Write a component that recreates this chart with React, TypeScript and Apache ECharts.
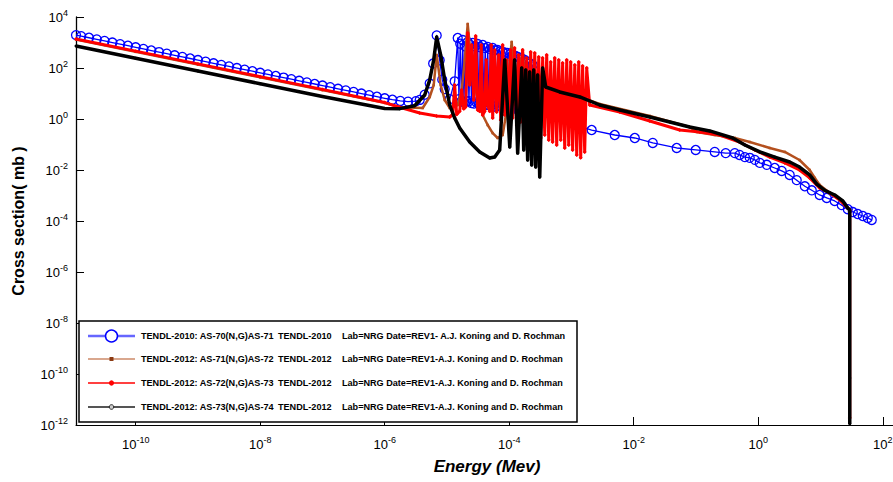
import React, { useEffect, useRef } from "react";
import * as echarts from "echarts";

const FONT = 'Arial, "Liberation Sans", Helvetica, sans-serif';

// Energy (MeV) range of the x axis and tick exponents
const energyRange = [1.1e-11, 146];
const xTickExponents = [-10, -8, -6, -4, -2, 0, 2];
const yRangeExponents = [-12, 4];

const seriesNames = [
  "TENDL-2010: AS-70(N,G)AS-71",
  "TENDL-2012: AS-71(N,G)AS-72",
  "TENDL-2012: AS-72(N,G)AS-73",
  "TENDL-2012: AS-73(N,G)AS-74",
];
const libraryNames = ["TENDL-2010", "TENDL-2012", "TENDL-2012", "TENDL-2012"];
const labNotes = [
  "Lab=NRG Date=REV1- A.J. Koning and D. Rochman",
  "Lab=NRG Date=REV1-A.J. Koning and D. Rochman",
  "Lab=NRG Date=REV1-A.J. Koning and D. Rochman",
  "Lab=NRG Date=REV1-A.J. Koning and D. Rochman",
];

// [energy MeV, cross section mb]
const as70: number[][] = [
  [1.1e-11, 1950], [1.33e-11, 1774], [1.78e-11, 1535], [2.37e-11, 1330], [3.16e-11, 1151], [4.22e-11, 996], [5.62e-11, 863], [7.5e-11, 747],
  [1e-10, 647], [1.33e-10, 561], [1.78e-10, 485], [2.37e-10, 421], [3.16e-10, 364], [4.22e-10, 315], [5.62e-10, 273], [7.5e-10, 236],
  [1e-9, 205], [1.33e-9, 177], [1.78e-9, 153], [2.37e-9, 133], [3.16e-9, 115], [4.22e-9, 99.6], [5.62e-9, 86.3], [7.5e-9, 74.7],
  [1e-8, 64.7], [1.33e-8, 56.1], [1.78e-8, 48.5], [2.37e-8, 42.1], [3.16e-8, 36.4], [4.22e-8, 31.5], [5.62e-8, 27.3], [7.5e-8, 23.6],
  [1e-7, 20.5], [1.33e-7, 17.7], [1.78e-7, 15.3], [2.37e-7, 13.3], [3.16e-7, 11.5], [4.22e-7, 9.96], [5.62e-7, 8.63], [7.5e-7, 7.47],
  [1e-6, 6.47], [1.33e-6, 5.7], [1.78e-6, 5.1], [2.37e-6, 4.8], [3.16e-6, 5.0], [3.65e-6, 5.6], [4.39e-6, 9], [5.28e-6, 25],
  [6.0e-6, 150], [6.84e-6, 1900], [7.64e-6, 200], [8.4e-6, 35], [9.2e-6, 15], [1.107e-5, 6], [1.33e-5, 30],
  [1.488e-5, 1500], [1.558e-5, 6], [1.632e-5, 900], [1.709e-5, 5], [1.79e-5, 1250], [1.875e-5, 4.5], [1.963e-5, 700], [2.056e-5, 5],
  [2.153e-5, 1047], [2.255e-5, 5], [2.362e-5, 800], [2.474e-5, 4.2], [2.59e-5, 955], [2.713e-5, 4], [2.841e-5, 700], [2.975e-5, 4.5],
  [3.116e-5, 870], [3.263e-5, 3.8], [3.418e-5, 650], [3.58e-5, 4], [3.749e-5, 800], [3.926e-5, 4.2], [4.112e-5, 600], [4.307e-5, 3.6],
  [4.51e-5, 667], [4.723e-5, 3.5], [4.946e-5, 550], [5.18e-5, 3.4], [5.425e-5, 610], [5.682e-5, 3], [5.95e-5, 500], [6.231e-5, 3.2],
  [6.526e-5, 508], [6.835e-5, 3.2], [7.158e-5, 450], [7.496e-5, 3], [7.851e-5, 424], [8.222e-5, 2.8], [8.611e-5, 400], [9.018e-5, 2.9],
  [9.445e-5, 387], [9.892e-5, 3], [1.036e-4, 350], [1.085e-4, 2.7], [1.136e-4, 323], [1.19e-4, 2.6], [1.246e-4, 300], [1.305e-4, 2.5],
  [1.367e-4, 270], [1.432e-4, 2.4], [1.499e-4, 250], [1.57e-4, 2.3], [1.644e-4, 225], [1.722e-4, 2.2], [1.803e-4, 200], [1.889e-4, 2.1],
  [1.978e-4, 172], [2.071e-4, 2.0], [2.169e-4, 150], [2.272e-4, 1.9], [2.379e-4, 131], [2.492e-4, 1.8],
  [2.11e-3, 0.37], [4.95e-3, 0.236], [1.04e-2, 0.18], [2.02e-2, 0.115], [4.9e-2, 0.073], [9.9e-2, 0.061], [0.2, 0.051], [0.3, 0.046],
  [0.42, 0.046], [0.5, 0.039], [0.61, 0.032], [0.73, 0.03], [0.88, 0.025], [1.06, 0.019], [1.37, 0.016], [1.84, 0.012],
  [2.38, 0.0092], [3.2, 0.0064], [4.15, 0.004], [5.6, 0.0023], [7.23, 0.0016], [9.7, 0.00105], [12.6, 0.0008], [16.9, 0.00061],
  [21.9, 0.00042], [27.4, 0.00029], [33, 0.000225], [39.6, 0.000188], [47.7, 0.000157], [57.4, 0.000131], [66.5, 0.00011],
];

const as71: number[][] = [
  [1.1e-11, 1300], [1e-10, 431], [1e-9, 136], [1e-8, 43], [1e-7, 13.6], [1e-6, 4.3], [1.74e-6, 2.9], [4.08e-6, 2.7],
  [5.28e-6, 7.3], [6.12e-6, 21.5], [6.84e-6, 323], [7.93e-6, 21.5], [9.2e-6, 5.56], [1.107e-5, 2.7], [1.488e-5, 3.54],
  [1.726e-5, 13.7], [1.93e-5, 206], [2.153e-5, 5300], [2.406e-5, 323], [2.69e-5, 33.8], [3.116e-5, 5.56], [3.749e-5, 1.43],
  [4.51e-5, 0.58], [5.425e-5, 0.28], [6.526e-5, 0.18], [7.851e-5, 0.236], [9.115e-5, 2.25], [1.02e-4, 206], [1.096e-4, 1047],
  [1.18e-4, 83.5], [1.319e-4, 5.56], [1.47e-4, 83.5], [1.644e-4, 508], [1.84e-4, 13.7], [2.13e-4, 3.54], [2.57e-4, 8.7],
  [3.09e-4, 13.7], [3.857e-4, 18], [1.36e-3, 7.3], [2.84e-3, 3.87], [1.81e-2, 1.31], [7.9e-2, 0.485], [0.103, 0.31],
  [0.2, 0.236], [0.42, 0.18], [0.73, 0.125], [1.53, 0.073], [2.67, 0.051], [4.6, 0.0247], [6.7, 0.01], [8.1, 0.0049],
  [9.7, 0.00258], [14.1, 0.00125], [20.4, 0.00067], [27.4, 0.00032],
];

const as72: number[][] = [
  [1.1e-11, 1380], [1e-10, 458], [1e-9, 145], [1e-8, 45.8], [1e-7, 14.5], [1e-6, 4.4], [1.74e-6, 2.9], [3.65e-6, 1.72],
  [6.84e-6, 1.3], [1.107e-5, 1.2], [1.237e-5, 1.5], [1.33e-5, 21.5], [1.432e-5, 1.5], [1.6e-5, 2], [1.726e-5, 13.7],
  [1.859e-5, 2.5], [2.0e-5, 3], [2.153e-5, 2360], [2.32e-5, 21.5], [2.496e-5, 798], [2.69e-5, 5.56], [2.894e-5, 1800],
  [3.116e-5, 2.25], [3.36e-5, 2], [3.552e-5, 798], [3.749e-5, 1.43], [4.04e-5, 2], [4.27e-5, 206], [4.51e-5, 3.54],
  [4.86e-5, 2], [5.137e-5, 798], [5.425e-5, 1.09], [5.85e-5, 508], [6.296e-5, 1.88], [6.779e-5, 323],
  [7.3e-5, 0.91], [7.851e-5, 798], [8.47e-5, 1.43], [9.115e-5, 206], [9.81e-5, 0.76], [1.057e-4, 508], [1.136e-4, 1.09],
  [1.22e-4, 608], [1.319e-4, 0.58], [1.42e-4, 323], [1.529e-4, 0.76], [1.644e-4, 508], [1.77e-4, 0.44], [1.91e-4, 247],
  [2.056e-4, 0.58], [2.214e-4, 424], [2.379e-4, 0.31], [2.57e-4, 387], [2.765e-4, 0.37], [2.977e-4, 270], [3.206e-4, 0.18],
  [3.443e-4, 247], [3.72e-4, 0.236], [4.0e-4, 323], [4.31e-4, 0.15], [4.64e-4, 172], [4.983e-4, 0.125], [5.38e-4, 247],
  [5.79e-4, 0.0955], [6.24e-4, 206], [6.72e-4, 0.15], [7.211e-4, 157], [7.79e-4, 0.073], [8.39e-4, 206], [9.03e-4, 0.0955],
  [9.72e-4, 172], [1.0436e-3, 0.061], [1.13e-3, 131], [1.214e-3, 0.039], [1.307e-3, 172], [1.407e-3, 0.03], [1.51e-3, 120],
  [1.63e-3, 0.051], [1.757e-3, 100], [1.96e-3, 3.54], [5.96e-3, 1.88], [1.81e-2, 0.835], [5.48e-2, 0.37], [0.115, 0.31],
  [0.24, 0.236], [0.5, 0.125], [0.88, 0.061], [1.53, 0.032], [2.67, 0.019], [4.6, 0.01], [6.7, 0.0049], [9.7, 0.00197],
  [14.1, 0.00125], [20.4, 0.00067], [27.4, 0.00032], [29.5, 0.00027], [29.5, 1.9e-12],
];

const as73: number[][] = [
  [1.1e-11, 730], [1e-10, 242], [1e-9, 76.6], [1e-8, 24.2], [1e-7, 7.66], [1e-6, 2.6], [1.74e-6, 2.55], [3.03e-6, 3.3],
  [4.39e-6, 8.7], [5.28e-6, 33.8], [6.12e-6, 206], [6.84e-6, 1640], [7.93e-6, 323], [9.2e-6, 33.8], [1.107e-5, 3.54],
  [1.33e-5, 1.09], [1.6e-5, 0.44], [2.32e-5, 0.125], [3.36e-5, 0.051], [4.86e-5, 0.0296], [5.85e-5, 0.0324], [7.03e-5, 0.061],
  [8.47e-5, 206], [1.02e-4, 0.08], [1.22e-4, 206], [1.367e-4, 0.046], [1.587e-4, 100], [1.709e-4, 0.061], [1.84e-4, 83.5],
  [1.978e-4, 0.0247], [2.13e-4, 70], [2.297e-4, 0.0157], [2.473e-4, 83.5], [2.664e-4, 0.0131], [2.862e-4, 53], [3.09e-4, 0.0053],
  [3.443e-4, 100], [3.857e-4, 18], [6.47e-4, 11.5], [1.36e-3, 7.3], [2.84e-3, 3.54], [5.96e-3, 2.25], [1.81e-2, 1.2],
  [3.79e-2, 0.76], [7.9e-2, 0.485], [0.166, 0.34], [0.389, 0.18], [0.61, 0.0955], [1.06, 0.051], [1.84, 0.032], [3.2, 0.0206],
  [4.6, 0.0131], [6.7, 0.0064], [8.7, 0.0028], [11.7, 0.0016], [16.9, 0.00105], [22.8, 0.00061], [27.4, 0.00032],
  [29.5, 0.00027], [29.5, 7e-11], [29.5, 1.1e-12],
];

const toLog = (d: number[][]) => d.map(([e, s]) => [Math.log10(e), Math.log10(s)]);

const supLabel = (v: number) => `{b|10}{s|${Math.round(v)}}`;
const rich = {
  b: { fontSize: 13, fontFamily: FONT, color: "#000", lineHeight: 18 },
  s: { fontSize: 9, fontFamily: FONT, color: "#000", lineHeight: 10, verticalAlign: "top" },
};

const colors = ["#0000ff", "#b4501e", "#ff0000", "#000000"];

function buildLegend() {
  const els: any[] = [];
  const z = 100;
  els.push({
    type: "rect",
    z,
    shape: { x: 79, y: 321, width: 498, height: 101 },
    style: { fill: "#fff", stroke: "#000", lineWidth: 1.5 },
  });
  const rows = [336, 359, 383, 407];
  const lineColors = ["#6666ff", "#b4501e", "#ff0000", "#555555"];
  const lineWidths = [2.5, 1.2, 1.5, 2];
  rows.forEach((y, i) => {
    els.push({
      type: "line",
      z,
      shape: { x1: 88, y1: y, x2: 135, y2: y },
      style: { stroke: lineColors[i], lineWidth: lineWidths[i] },
    });
    if (i === 0) {
      els.push({ type: "circle", z: z + 1, shape: { cx: 111.5, cy: y, r: 6 }, style: { fill: "#fff", stroke: "#0000ff", lineWidth: 1.5 } });
    } else if (i === 1) {
      els.push({ type: "rect", z: z + 1, shape: { x: 109.5, y: y - 2, width: 4, height: 4 }, style: { fill: "#8b3a12" } });
    } else if (i === 2) {
      els.push({ type: "circle", z: z + 1, shape: { cx: 111.5, cy: y, r: 2.6 }, style: { fill: "#ff0000" } });
    } else {
      els.push({ type: "circle", z: z + 1, shape: { cx: 111.5, cy: y, r: 2.3 }, style: { fill: "#ccc", stroke: "#222", lineWidth: 1 } });
    }
    const ts = { fontSize: 9.1, fontWeight: "bold", fontFamily: FONT, fill: "#000", verticalAlign: "middle", align: "left" };
    els.push({ type: "text", z, x: 141, y, style: { ...ts, text: seriesNames[i] } });
    els.push({ type: "text", z, x: 278, y, style: { ...ts, text: libraryNames[i] } });
    els.push({ type: "text", z, x: 342, y, style: { ...ts, text: labNotes[i] } });
  });
  return els;
}

export default function App() {
  const ref = useRef<HTMLDivElement>(null);
  useEffect(() => {
    if (!ref.current) return;
    const chart = echarts.init(ref.current, null, { renderer: "svg" });
    const xMin = Math.log10(energyRange[0]);
    const xMax = Math.log10(energyRange[1]);
    const mk = (i: number, data: number[][], symbol: string, size: number, width: number, extra: any = {}) => ({
      type: "line",
      name: seriesNames[i],
      data: toLog(data),
      symbol,
      symbolSize: size,
      showAllSymbol: true,
      lineStyle: { color: colors[i], width, join: "round" },
      itemStyle: { color: colors[i], ...extra },
      emphasis: { disabled: true },
      z: 2 + i,
    });
    chart.setOption({
      animation: false,
      backgroundColor: "#fff",
      grid: { left: 76, right: 0, top: 17, bottom: 57, containLabel: false, outerBoundsMode: "none" },
      xAxis: {
        type: "value",
        min: xMin,
        max: xMax,
        axisLine: { onZero: false, lineStyle: { color: "#000", width: 1 } },
        axisTick: { inside: true, length: 8, customValues: xTickExponents, lineStyle: { color: "#000" } },
        axisLabel: { customValues: xTickExponents, margin: 10, formatter: supLabel, rich },
        splitLine: { show: false },
      },
      yAxis: {
        type: "value",
        min: yRangeExponents[0],
        max: yRangeExponents[1],
        interval: 2,
        axisLine: { show: true, onZero: false, lineStyle: { color: "#000", width: 1.3 } },
        axisTick: { show: true, inside: true, length: 8, lineStyle: { color: "#000" } },
        axisLabel: { margin: 8, formatter: supLabel, rich },
        splitLine: { show: false },
      },
      series: [
        mk(0, as70, "circle", 9, 1.3, { color: "rgba(0,0,255,0)", borderColor: "#0000ff", borderWidth: 1.3 }),
        mk(1, as71, "rect", 2.5, 2.5),
        mk(2, as72, "diamond", 4, 3),
        mk(3, as73, "circle", 3, 3.5),
      ],
      graphic: [
        {
          type: "text",
          x: 18,
          y: 221,
          rotation: Math.PI / 2,
          style: { text: "Cross section( mb )", fontSize: 16, fontWeight: "bold", fontFamily: FONT, fill: "#000", align: "center", verticalAlign: "middle" },
        },
        {
          type: "text",
          x: 487,
          y: 466,
          style: { text: "Energy (Mev)", fontSize: 17, fontWeight: "bold", fontStyle: "italic", fontFamily: FONT, fill: "#000", align: "center", verticalAlign: "middle" },
        },
        ...buildLegend(),
      ],
    });
    return () => chart.dispose();
  }, []);
  return (
    <div
      ref={ref}
      style={{ position: "fixed", left: 0, top: 0, width: 893, height: 482, background: "#fff" }}
    />
  );
}
